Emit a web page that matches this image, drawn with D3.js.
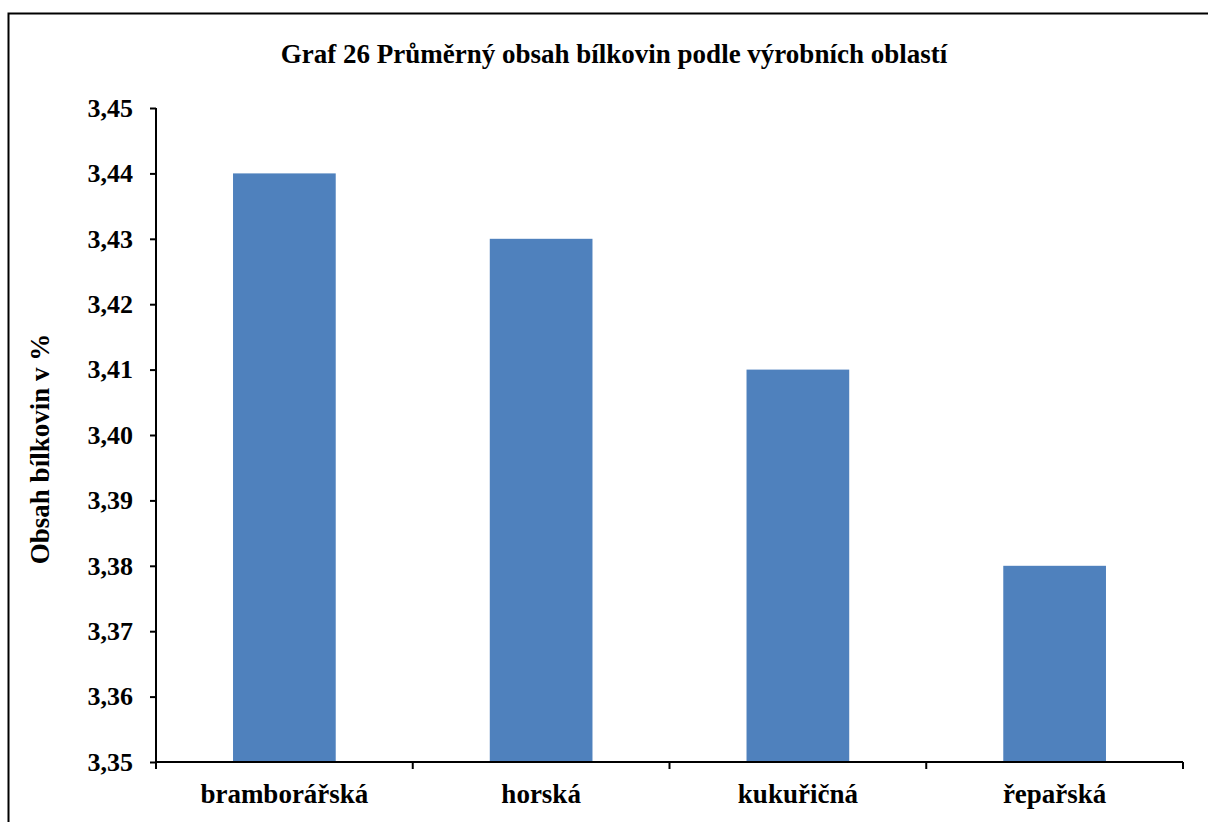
<!DOCTYPE html>
<html><head><meta charset="utf-8">
<script src="https://cdn.jsdelivr.net/npm/d3@7"></script>
<style>body{margin:0;background:#fff}svg{display:block}</style>
</head><body>
<svg id="c" width="1208" height="822"></svg>
<script>
const categories = ["bramborářská", "horská", "kukuřičná", "řepařská"];
const values = [3.44, 3.43, 3.41, 3.38];
const yTicks = [3.35, 3.36, 3.37, 3.38, 3.39, 3.40, 3.41, 3.42, 3.43, 3.44, 3.45];
const title = "Graf 26 Průměrný obsah bílkovin podle výrobních oblastí";
const yLabel = "Obsah bílkovin v %";

const svg = d3.select("#c");
const font = "'Liberation Serif','Times New Roman',serif";
svg.append("rect").attr("x", 8.5).attr("y", 13.5).attr("width", 1300).attr("height", 900)
  .attr("fill", "#fff").attr("stroke", "#000").attr("stroke-width", 2);

const L = 156, R = 1183, T = 108, B = 762;
const x = d3.scaleBand().domain(categories).range([L, R]).paddingInner(0.6).paddingOuter(0.3);
const xb = d3.scaleBand().domain(categories).range([L, R]);
const y = d3.scaleLinear().domain([3.35, 3.45]).range([B, T]);

svg.append("g").selectAll("rect").data(values).join("rect")
  .attr("x", (d, i) => x(categories[i])).attr("width", x.bandwidth())
  .attr("y", d => y(d)).attr("height", d => B - y(d)).attr("fill", "#4f81bd");

const ya = svg.append("g").attr("transform", `translate(${L},0)`)
  .call(d3.axisLeft(y).tickValues(yTicks).tickSize(6).tickPadding(17)
    .tickFormat(d => d3.format(".2f")(d).replace(".", ",")));
ya.select(".domain").attr("stroke", "#000").attr("stroke-width", 2).attr("d", `M0,${T}V${B}`);
ya.selectAll(".tick line").attr("stroke", "#000").attr("stroke-width", 2);
ya.selectAll("text").attr("font-family", font).attr("font-weight", "bold").attr("font-size", 26).attr("fill", "#000");

const xa = svg.append("g").attr("transform", `translate(0,${B})`);
xa.append("line").attr("x1", L).attr("x2", R).attr("stroke", "#000").attr("stroke-width", 2);
const edges = categories.map(c => xb(c)).concat([R]);
xa.selectAll(".t").data(edges).join("line").attr("x1", d => d).attr("x2", d => d)
  .attr("y1", 0).attr("y2", 7).attr("stroke", "#000").attr("stroke-width", 2);
xa.selectAll("text").data(categories).join("text")
  .attr("x", d => xb(d) + xb.bandwidth() / 2).attr("y", 41).attr("text-anchor", "middle")
  .attr("font-family", font).attr("font-weight", "bold").attr("font-size", 27).text(d => d);

svg.append("text").attr("x", 614).attr("y", 63).attr("text-anchor", "middle")
  .attr("font-family", font).attr("font-weight", "bold").attr("font-size", 27).text(title);
svg.append("text").attr("transform", "translate(49,449) rotate(-90)").attr("text-anchor", "middle")
  .attr("font-family", font).attr("font-weight", "bold").attr("font-size", 27).text(yLabel);
</script>
</body></html>
